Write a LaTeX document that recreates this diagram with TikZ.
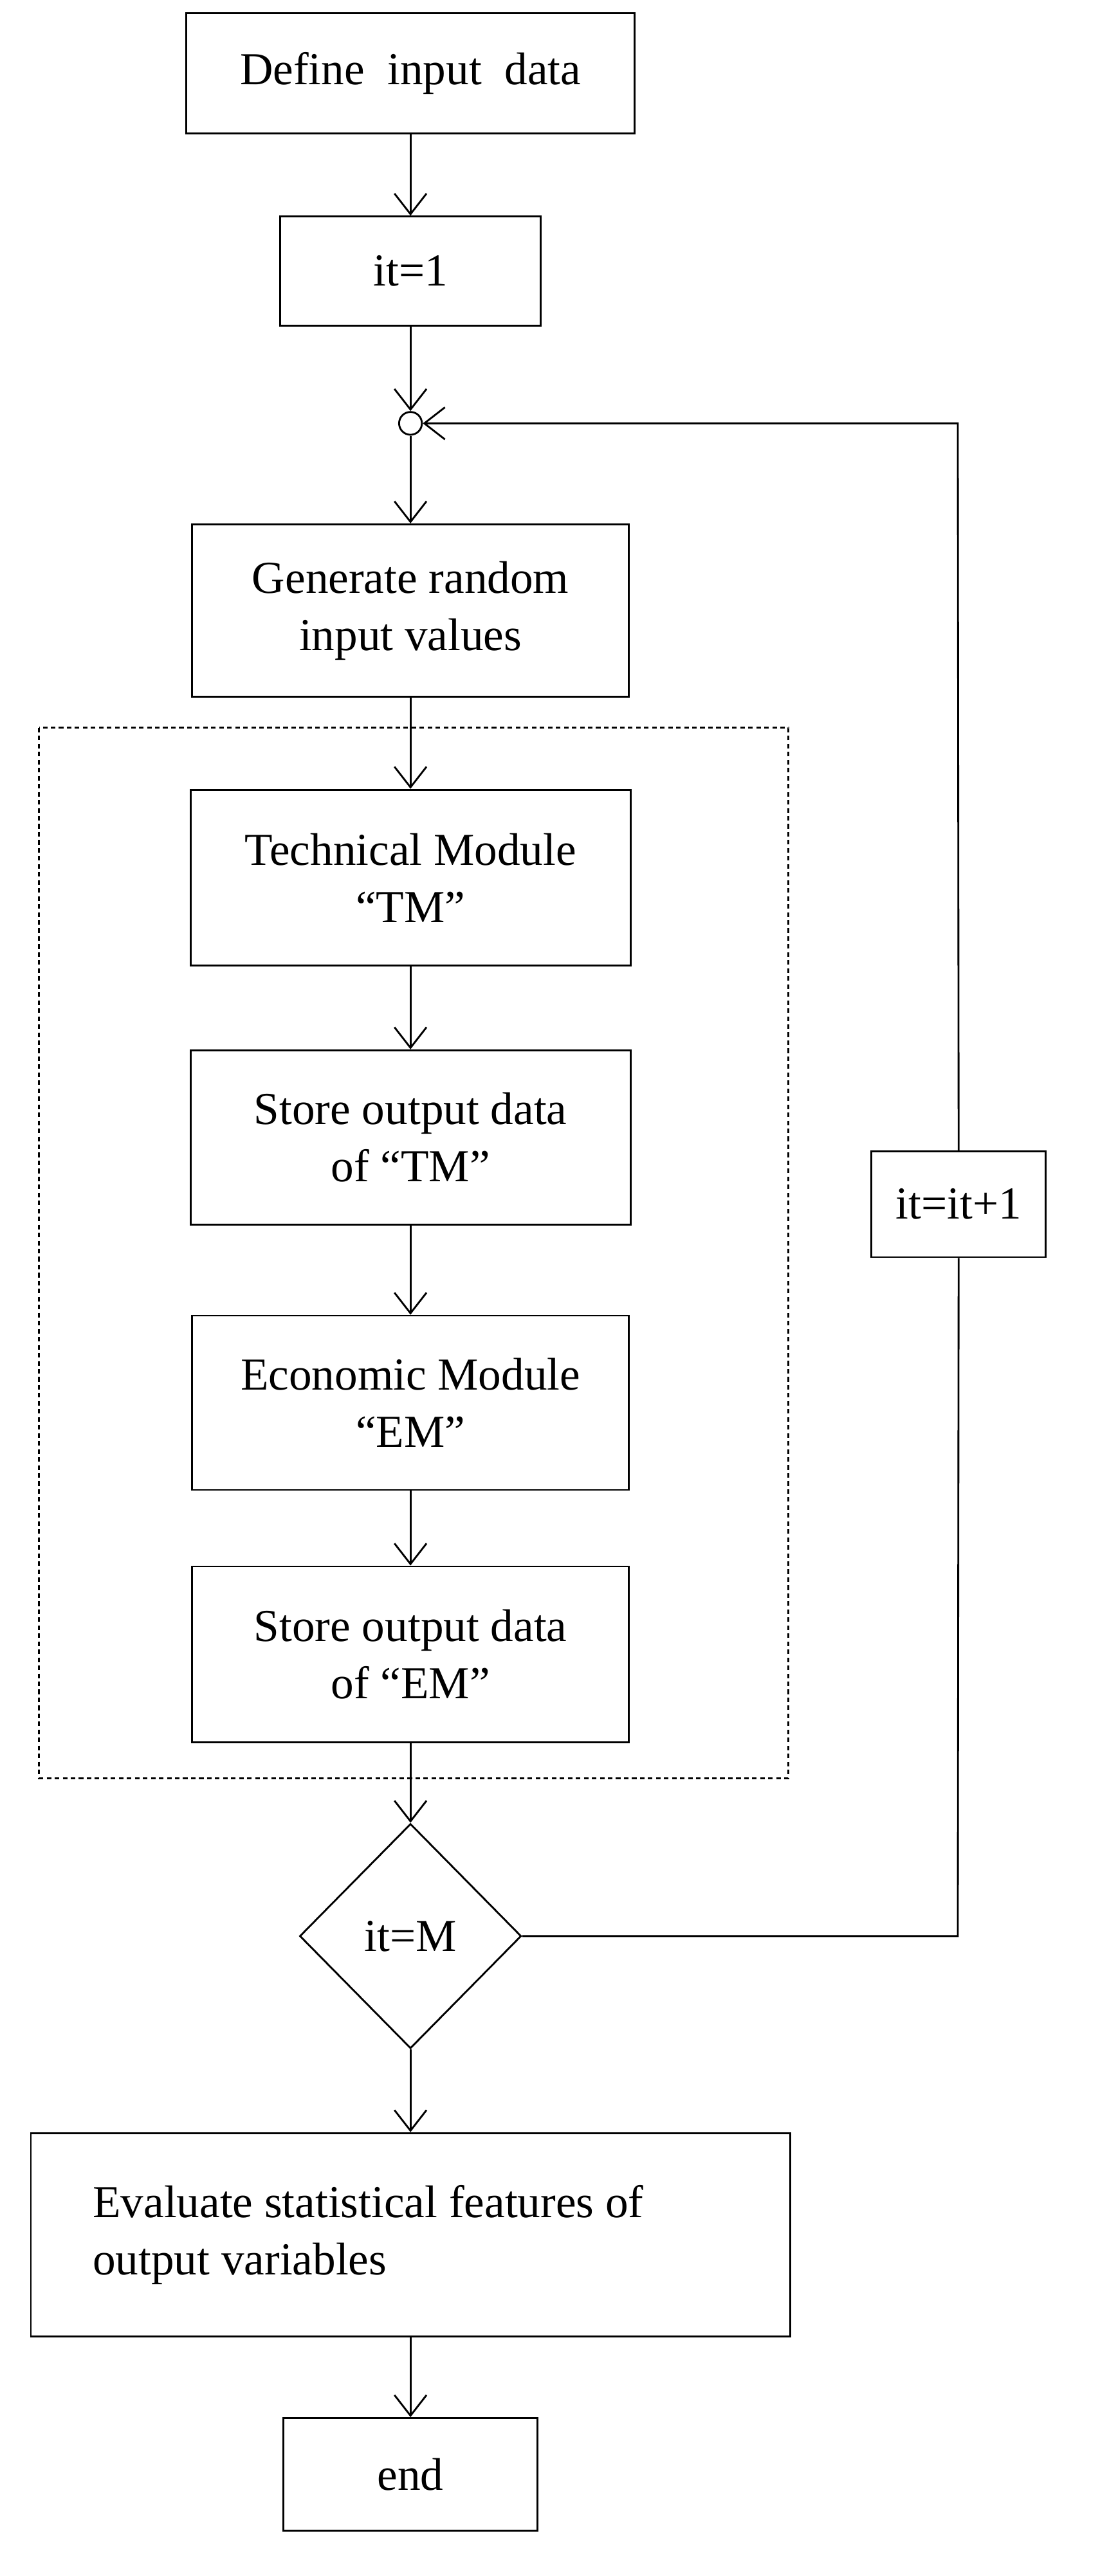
\documentclass[tikz,border=0pt]{standalone}
\usepackage{fontspec}
\setmainfont{Liberation Serif}
\usetikzlibrary{arrows.meta,shapes.geometric}
\begin{document}
\begin{tikzpicture}[x=0.025cm, y=-0.025cm, >={Straight Barb[length=9pt,width=14pt]},
  every node/.style={font=\fontsize{20}{25}\selectfont},
  box/.style={draw, thick, align=center, inner sep=0pt},
  flow/.style={->, thick}]
  \useasboundingbox (0,0) rectangle (686,1582);
  % main column
  \node[box, minimum width=6.875cm, minimum height=1.85cm] (define) at (252,45) {Define\ \ input\ \ data};
  \node[box, minimum width=4cm, minimum height=1.675cm] (it1) at (252,166.5) {it=1};
  \node[draw, thick, circle, minimum size=0.35cm, inner sep=0pt] (join) at (252,260) {};
  \node[box, minimum width=6.7cm, minimum height=2.65cm] (gen) at (252,375) {Generate random\\input values};
  % dashed module group
  \draw[thick, dash pattern=on 2pt off 1.5pt] (24,447) rectangle (484,1092);
  \node[box, minimum width=6.75cm, minimum height=2.7cm] (tm) at (252,539) {Technical Module\\``TM''};
  \node[box, minimum width=6.75cm, minimum height=2.675cm] (stm) at (252,698.5) {Store output data\\of ``TM''};
  \node[box, minimum width=6.7cm, minimum height=2.675cm] (em) at (252,861.5) {Economic Module\\``EM''};
  \node[box, minimum width=6.7cm, minimum height=2.7cm] (sem) at (252,1016) {Store output data\\of ``EM''};
  \node[draw, thick, diamond, minimum width=3.4cm, minimum height=3.45cm, inner sep=0pt] (test) at (252,1189) {it=M};
  \node[box, minimum width=11.65cm, minimum height=3.125cm] (eval) at (252,1372.5) {};
  \node[align=left, anchor=west] (evaltext) at (52,1372.5) {Evaluate statistical features of\\output variables};
  \node[box, minimum width=3.9cm, minimum height=1.725cm] (end) at (252,1519.5) {end};
  % loop back
  \node[box, minimum width=2.675cm, minimum height=1.625cm] (inc) at (588.5,739.5) {it=it+1};
  \coordinate (cr) at (588,1189);
  \coordinate (ct) at (588,260);
  % connectors
  \draw[flow] (define) -- (it1);
  \draw[flow] (it1) -- (join);
  \draw[flow] (join) -- (gen);
  \draw[flow] (gen) -- (tm);
  \draw[flow] (tm) -- (stm);
  \draw[flow] (stm) -- (em);
  \draw[flow] (em) -- (sem);
  \draw[flow] (sem) -- (test);
  \draw[flow] (test) -- (eval);
  \draw[flow] (eval) -- (end);
  \draw[thick] (test.east) -- (cr) -- (inc.south);
  \draw[flow] (inc.north) -- (ct) -- (join);
\end{tikzpicture}
\end{document}
